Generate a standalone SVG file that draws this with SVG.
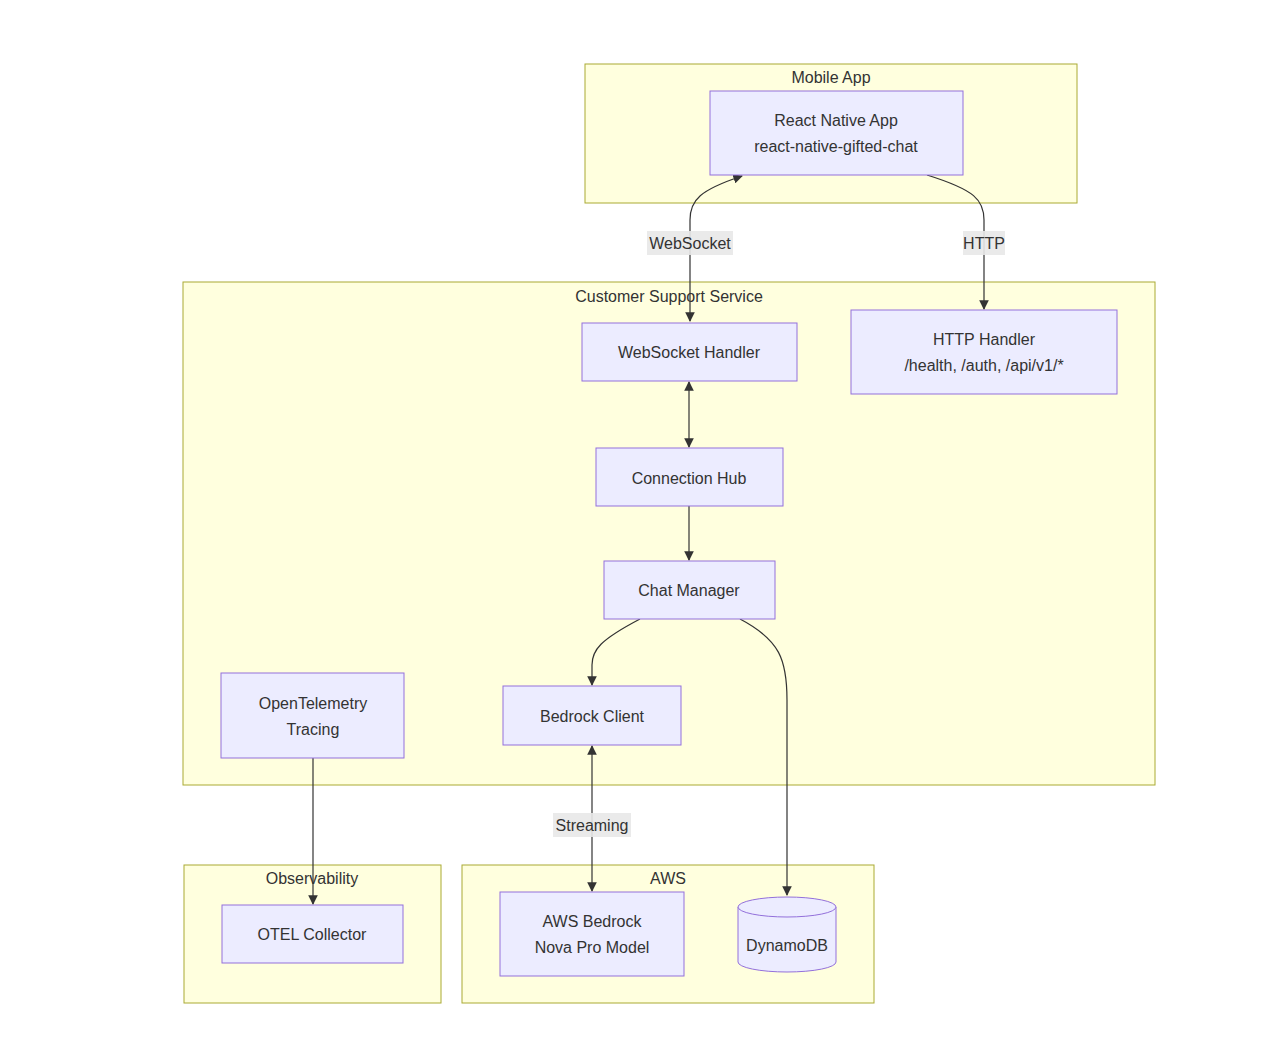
<svg xmlns="http://www.w3.org/2000/svg" width="1268" height="1060" viewBox="0 0 1268 1060">
<style>
text{font-family:"Liberation Sans",Arial,sans-serif;font-size:16px;fill:#333;text-anchor:middle;dominant-baseline:central}
.cl{fill:#ffffde;stroke:#aaaa33;stroke-width:1}
.nd{fill:#ECECFF;stroke:#9370DB;stroke-width:1}
.e{fill:none;stroke:#333;stroke-width:1.2}
.lb{fill:#e8e8e8;fill-opacity:0.9}
</style>
<defs>
<marker id="ae" viewBox="0 0 10 10" refX="9" refY="5" markerWidth="8" markerHeight="8" orient="auto"><path d="M0,0L10,5L0,10z" fill="#333"/></marker>
<marker id="as" viewBox="0 0 10 10" refX="1" refY="5" markerWidth="8" markerHeight="8" orient="auto"><path d="M10,0L0,5L10,10z" fill="#333"/></marker>
</defs>
<rect width="1268" height="1060" fill="#fff"/>
<g id="clusters">
<g id="mobile"><rect class="cl" x="585" y="64" width="492" height="139"/><text x="831" y="77">Mobile App</text></g>
<g id="css"><rect class="cl" x="183" y="282" width="972" height="503"/><text x="669" y="296">Customer Support Service</text></g>
<g id="obs"><rect class="cl" x="184" y="865" width="257" height="138"/><text x="312" y="878">Observability</text></g>
<g id="aws"><rect class="cl" x="462" y="865" width="412" height="138"/><text x="668" y="878">AWS</text></g>
</g>
<g id="connectors">
<path class="e" d="M742,176 C700,190 690,200 690,220 L690,321" marker-start="url(#as)" marker-end="url(#ae)"/>
<path class="e" d="M927,175 C975,190 984,200 984,220 L984,309" marker-end="url(#ae)"/>
<path class="e" d="M689,382 L689,447" marker-start="url(#as)" marker-end="url(#ae)"/>
<path class="e" d="M689,506 L689,560" marker-end="url(#ae)"/>
<path class="e" d="M640,619 C600,640 592,650 592,665 L592,685" marker-end="url(#ae)"/>
<path class="e" d="M740,619 C780,640 787,660 787,700 L787,895" marker-end="url(#ae)"/>
<path class="e" d="M592,746 L592,891" marker-start="url(#as)" marker-end="url(#ae)"/>
<path class="e" d="M313,758 L313,904" marker-end="url(#ae)"/>
<rect class="lb" x="647" y="231" width="86" height="24"/><text x="690" y="243">WebSocket</text>
<rect class="lb" x="963" y="231" width="42" height="24"/><text x="984" y="243">HTTP</text>
<rect class="lb" x="553" y="813" width="78" height="24"/><text x="592" y="825">Streaming</text>
</g>
<g id="rn"><rect class="nd" x="710" y="91" width="253" height="84"/><text x="836" y="120">React Native App</text><text x="836" y="146">react-native-gifted-chat</text></g>
<g id="wsh"><rect class="nd" x="582" y="323" width="215" height="58"/><text x="689" y="352">WebSocket Handler</text></g>
<g id="http"><rect class="nd" x="851" y="310" width="266" height="84"/><text x="984" y="339">HTTP Handler</text><text x="984" y="365">/health, /auth, /api/v1/*</text></g>
<g id="hub"><rect class="nd" x="596" y="448" width="187" height="58"/><text x="689" y="478">Connection Hub</text></g>
<g id="chat"><rect class="nd" x="604" y="561" width="171" height="58"/><text x="689" y="590">Chat Manager</text></g>
<g id="bc"><rect class="nd" x="503" y="686" width="178" height="59"/><text x="592" y="716">Bedrock Client</text></g>
<g id="otel"><rect class="nd" x="221" y="673" width="183" height="85"/><text x="313" y="703">OpenTelemetry</text><text x="313" y="729">Tracing</text></g>
<g id="col"><rect class="nd" x="222" y="905" width="181" height="58"/><text x="312" y="934">OTEL Collector</text></g>
<g id="ab"><rect class="nd" x="500" y="892" width="184" height="84"/><text x="592" y="921">AWS Bedrock</text><text x="592" y="947">Nova Pro Model</text></g>
<g id="ddb"><path class="nd" d="M738,907 A49,10 0 0 1 836,907 L836,962 A49,10 0 0 1 738,962 Z"/><path class="nd" d="M738,907 A49,10 0 0 0 836,907" fill="none"/><text x="787" y="945">DynamoDB</text></g>
</svg>
